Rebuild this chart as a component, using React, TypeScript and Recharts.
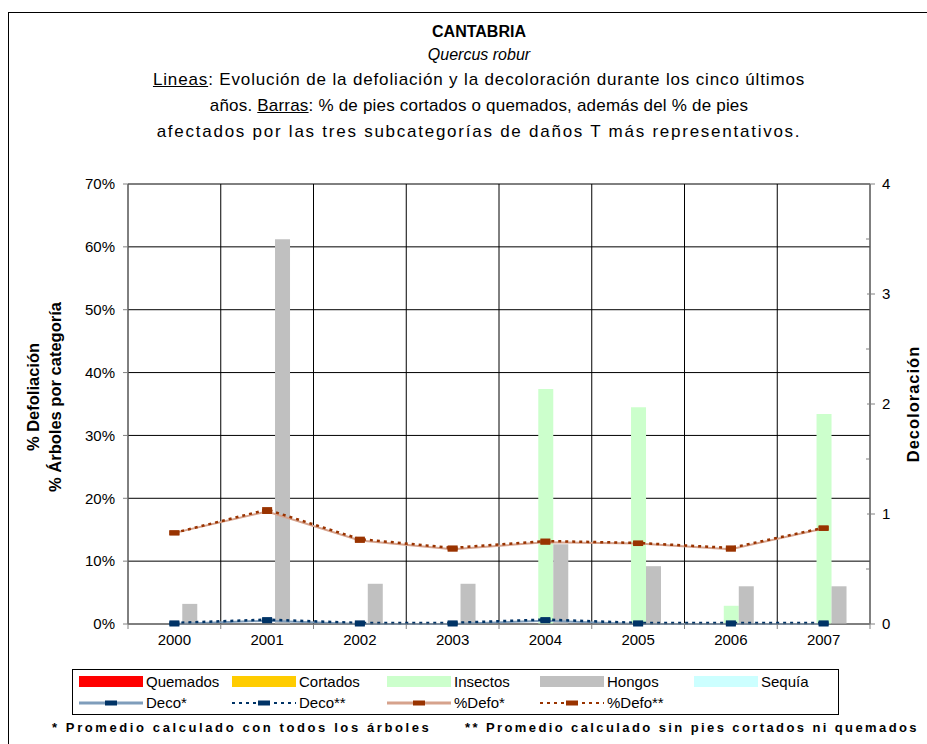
import { ComposedChart, Bar, Line, XAxis, YAxis, CartesianGrid } from 'recharts'

const FONT = '"Liberation Sans", Arial, sans-serif'

const years = ['2000', '2001', '2002', '2003', '2004', '2005', '2006', '2007']
const quemados = [0, 0, 0, 0, 0, 0, 0, 0]
const cortados = [0, 0, 0, 0, 0, 0, 0, 0]
const insectos = [0, 0, 0, 0, 37.4, 34.5, 2.9, 33.4]
const hongos = [3.2, 61.2, 6.4, 6.4, 12.7, 9.2, 6.0, 6.0]
const sequia = [0, 0, 0, 0, 0, 0, 0, 0]
const decoAll = [0.0, 0.03, 0.0, 0.0, 0.03, 0.0, 0.0, 0.0]
const decoSin = [0.01, 0.04, 0.01, 0.01, 0.04, 0.01, 0.01, 0.01]
const defoAll = [14.5, 17.9, 13.3, 11.9, 13.0, 12.8, 11.9, 15.2]
const defoSin = [14.5, 18.2, 13.5, 12.1, 13.2, 12.9, 12.1, 15.3]

const leftTicks = [0, 10, 20, 30, 40, 50, 60, 70]
const rightTicks = [0, 0.5, 1, 1.5, 2, 2.5, 3, 3.5, 4]

const data = years.map((year, i) => ({
  year,
  quemados: quemados[i],
  cortados: cortados[i],
  insectos: insectos[i],
  hongos: hongos[i],
  sequia: sequia[i],
  decoAll: decoAll[i],
  decoSin: decoSin[i],
  defoAll: defoAll[i],
  defoSin: defoSin[i],
}))

const barSeries = [
  { key: 'quemados', name: 'Quemados', color: '#FF0000' },
  { key: 'cortados', name: 'Cortados', color: '#FFCC00' },
  { key: 'insectos', name: 'Insectos', color: '#CCFFCC' },
  { key: 'hongos', name: 'Hongos', color: '#C0C0C0' },
  { key: 'sequia', name: 'Sequía', color: '#CCFFFF' },
]

const lineSeries = [
  { key: 'decoAll', name: 'Deco*', color: '#7F9DBB', marker: '#003366', dash: undefined, axis: 'right' },
  { key: 'decoSin', name: 'Deco**', color: '#003366', marker: '#003366', dash: '3 4', axis: 'right' },
  { key: 'defoAll', name: '%Defo*', color: '#D6A28C', marker: '#993300', dash: undefined, axis: 'left' },
  { key: 'defoSin', name: '%Defo**', color: '#993300', marker: '#993300', dash: '3 4', axis: 'left' },
]

const legendCols = [79, 232, 387, 540, 694]

// vertical grid lines sit on the category boundaries, like Excel does
const boundaryLines = ({ xAxis, offset }: any) => {
  let a = offset.left
  let b = offset.left + offset.width
  try {
    const r = xAxis?.scale?.range?.()
    if (Array.isArray(r) && r.length === 2) [a, b] = r
  } catch (e) {
    // keep plot edges
  }
  const step = (b - a) / years.length
  return [...years.map((_, i) => a + i * step), b]
}

function YearTick(props: any) {
  const { x, y, payload, index } = props
  const half = payload?.offset ?? 0
  const last = index === years.length - 1
  return (
    <g>
      <line x1={x - half} x2={x - half} y1={y} y2={y + 5} stroke="#808080" />
      {last && <line x1={x + half} x2={x + half} y1={y} y2={y + 5} stroke="#808080" />}
      <text x={x} y={y + 21} textAnchor="middle" fontSize={15} fontFamily={FONT} fill="#000">
        {payload.value}
      </text>
    </g>
  )
}

function DecoTick(props: any) {
  const { x, y, payload } = props
  const major = Number.isInteger(payload.value)
  return (
    <g>
      {major ? (
        <line x1={x - 3} x2={x + 5} y1={y} y2={y} stroke="#808080" />
      ) : (
        <line x1={x - 4} x2={x} y1={y} y2={y} stroke="#808080" />
      )}
      {major && (
        <text x={x + 12} y={y + 5} textAnchor="start" fontSize={15} fontFamily={FONT} fill="#000">
          {payload.value}
        </text>
      )}
    </g>
  )
}

const markerDot = (color: string) => (props: any) => {
  const { cx, cy, index } = props
  return <rect key={`m-${index}`} x={cx - 5} y={cy - 2.5} width={10} height={5} fill={color} />
}

function LineSymbol({ color, marker, dash }: { color: string; marker: string; dash?: string }) {
  return (
    <svg width={64} height={10} style={{ position: 'absolute', left: 0, top: 0 }}>
      <line x1={0} x2={64} y1={5} y2={5} stroke={color} strokeWidth={dash ? 2 : 3} strokeDasharray={dash} />
      <rect x={26} y={2.5} width={12} height={5} fill={marker} />
    </svg>
  )
}

const textLine = (top: number, extra: any) => ({
  position: 'absolute' as const,
  left: 0,
  top,
  width: 958,
  textAlign: 'center' as const,
  fontFamily: FONT,
  fontSize: 17,
  lineHeight: '20px',
  color: '#000',
  whiteSpace: 'nowrap' as const,
  ...extra,
})

const rotated = {
  position: 'absolute' as const,
  transform: 'rotate(-90deg)',
  textAlign: 'center' as const,
  fontFamily: FONT,
  fontWeight: 'bold' as const,
  fontSize: 16.5,
  lineHeight: '22px',
  whiteSpace: 'nowrap' as const,
}

export default function App() {
  return (
    <div style={{ position: 'absolute', left: 0, top: 0, width: 927, height: 744, background: '#fff', overflow: 'hidden' }}>
      <div style={{ position: 'absolute', left: 8, top: 12, width: 960, height: 800, border: '1px solid #000' }} />

      <div style={textLine(22, { fontWeight: 'bold', fontSize: 16 })}>CANTABRIA</div>
      <div style={textLine(45, { fontStyle: 'italic', fontSize: 16 })}>Quercus robur</div>
      <div style={textLine(70, { letterSpacing: 0.85 })}>
        <u>Lineas</u>: Evolución de la defoliación y la decoloración durante los cinco últimos
      </div>
      <div style={textLine(96, { letterSpacing: 0.2 })}>
        años. <u>Barras</u>: % de pies cortados o quemados, además del % de pies
      </div>
      <div style={textLine(122, { letterSpacing: 1.75 })}>
        afectados por las tres subcategorías de daños T más representativos.
      </div>

      <ComposedChart
        width={927}
        height={744}
        data={data}
        margin={{ top: 184, right: 17, bottom: 90, left: 68 }}
        barCategoryGap="10%"
        barGap={0}
        style={{ position: 'absolute', left: 0, top: 0 }}
      >
        <CartesianGrid yAxisId="left" stroke="#000" strokeWidth={1} verticalCoordinatesGenerator={boundaryLines} />
        <XAxis
          dataKey="year"
          height={30}
          interval={0}
          tickLine={false}
          tickSize={0}
          tickMargin={0}
          axisLine={{ stroke: '#808080' }}
          tick={<YearTick />}
        />
        <YAxis
          yAxisId="left"
          domain={[0, 70]}
          ticks={leftTicks}
          interval={0}
          width={60}
          tickSize={5}
          tickMargin={8}
          tickFormatter={(v) => `${v}%`}
          axisLine={{ stroke: '#808080' }}
          tickLine={{ stroke: '#808080' }}
          tick={{ fontSize: 15, fill: '#000', fontFamily: FONT }}
          allowDataOverflow
        />
        <YAxis
          yAxisId="right"
          orientation="right"
          domain={[0, 4]}
          ticks={rightTicks}
          interval={0}
          width={40}
          tickSize={0}
          tickMargin={0}
          tickLine={false}
          axisLine={{ stroke: '#808080' }}
          tick={<DecoTick />}
        />
        {barSeries.map((s) => (
          <Bar key={s.key} yAxisId="left" dataKey={s.key} name={s.name} fill={s.color} isAnimationActive={false} />
        ))}
        {lineSeries.map((s) => (
          <Line
            key={s.key}
            yAxisId={s.axis}
            type="linear"
            dataKey={s.key}
            name={s.name}
            stroke={s.color}
            strokeWidth={s.dash ? 2.5 : 2}
            strokeDasharray={s.dash}
            dot={markerDot(s.marker)}
            activeDot={false}
            isAnimationActive={false}
          />
        ))}
      </ComposedChart>

      <div style={{ ...rotated, left: 44 - 130, top: 397 - 22, width: 260, height: 44 }}>
        % Defoliación
        <br />% Árboles por categoría
      </div>
      <div style={{ ...rotated, left: 913 - 90, top: 404 - 11, width: 180, height: 22, letterSpacing: 1 }}>
        Decoloración
      </div>

      <div style={{ position: 'absolute', left: 72, top: 669, width: 767, height: 46, border: '1px solid #000', boxSizing: 'border-box' }} />
      {barSeries.map((s, i) => (
        <div key={s.key} style={{ position: 'absolute', left: legendCols[i], top: 674, height: 16, fontFamily: FONT, fontSize: 15, lineHeight: '16px', whiteSpace: 'nowrap' }}>
          <span style={{ position: 'absolute', left: 0, top: 2, width: 64, height: 11, background: s.color }} />
          <span style={{ position: 'absolute', left: 67, top: 0 }}>{s.name}</span>
        </div>
      ))}
      {lineSeries.map((s, i) => (
        <div key={s.key} style={{ position: 'absolute', left: legendCols[i], top: 698, height: 16, fontFamily: FONT, fontSize: 15, lineHeight: '16px', whiteSpace: 'nowrap' }}>
          <LineSymbol color={s.color} marker={s.marker} dash={s.dash} />
          <span style={{ position: 'absolute', left: 67, top: -3 }}>{s.name}</span>
        </div>
      ))}

      <div style={{ position: 'absolute', left: 52, top: 720, fontFamily: FONT, fontWeight: 'bold', fontSize: 13, letterSpacing: 2.6, whiteSpace: 'nowrap' }}>
        * Promedio calculado con todos los árboles
      </div>
      <div style={{ position: 'absolute', left: 465, top: 720, fontFamily: FONT, fontWeight: 'bold', fontSize: 13, letterSpacing: 2.4, whiteSpace: 'nowrap' }}>
        ** Promedio calculado sin pies cortados ni quemados
      </div>
    </div>
  )
}
